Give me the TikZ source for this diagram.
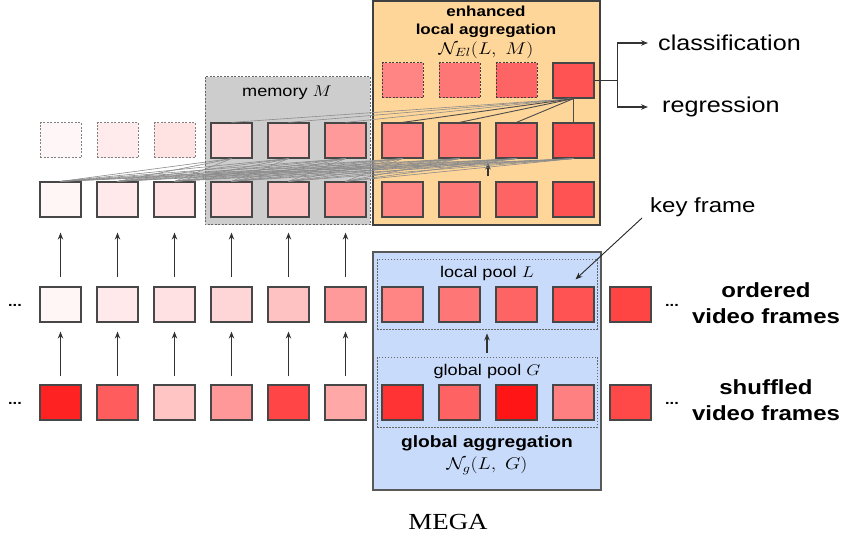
\RequirePackage{fix-cm}
\documentclass[tikz,border=0pt]{standalone}
\usepackage{graphicx}
\usepackage{fontspec}
\setmainfont{Liberation Sans}[FakeStretch=1.17]
\newfontfamily\capfont{Liberation Serif}[FakeStretch=1.17]
\usetikzlibrary{calc,arrows.meta}

% frame colours: ordered stream (oc), shuffled stream (sc), faded past frames (gc)
\definecolor{oc0}{HTML}{FFF6F5}
\definecolor{oc1}{HTML}{FFE9EA}
\definecolor{oc2}{HTML}{FFE1E3}
\definecolor{oc3}{HTML}{FFD6D7}
\definecolor{oc4}{HTML}{FFC2C2}
\definecolor{oc5}{HTML}{FF9A9A}
\definecolor{oc6}{HTML}{FF8585}
\definecolor{oc7}{HTML}{FF7676}
\definecolor{oc8}{HTML}{FF6464}
\definecolor{oc9}{HTML}{FF5252}
\definecolor{oc10}{HTML}{FF4444}
\definecolor{sc0}{HTML}{FF2222}
\definecolor{sc1}{HTML}{FF5D5D}
\definecolor{sc2}{HTML}{FFC4C4}
\definecolor{sc3}{HTML}{FF9999}
\definecolor{sc4}{HTML}{FF4545}
\definecolor{sc5}{HTML}{FFA8A8}
\definecolor{sc6}{HTML}{FF3333}
\definecolor{sc7}{HTML}{FF6262}
\definecolor{sc8}{HTML}{FF1515}
\definecolor{sc9}{HTML}{FF8080}
\definecolor{sc10}{HTML}{FF4848}
\definecolor{gc0}{HTML}{FFF7F7}
\definecolor{gc1}{HTML}{FFEBEB}
\definecolor{gc2}{HTML}{FFE3E3}
\definecolor{orangebg}{HTML}{FED699}
\definecolor{bluebg}{HTML}{C9DBFA}
\definecolor{graybg}{HTML}{CDCDCD}

\newcommand\wm[1]{\scalebox{1.17}[1]{$#1$}}

\begin{document}
\begin{tikzpicture}[x=1pt,y=-1pt,
  frame/.style={draw=black!72, line width=1.2pt, minimum width=41pt,
    minimum height=35pt, inner sep=0pt},
  ghost/.style={frame, draw=black!50, line width=1pt, dash pattern=on 2pt off 1.5pt},
  ghostkey/.style={frame, draw=black!75, line width=1pt, dash pattern=on 2pt off 1.5pt},
  pool/.style={draw=black!60, line width=0.9pt, dash pattern=on 1.5pt off 1.5pt,
    minimum width=220pt, minimum height=70pt, inner sep=0pt},
  panel/.style={line width=1.3pt, draw=black!75},
  up/.style={-{Stealth[length=7pt,width=5.5pt]}, draw=black!80, line width=1.1pt},
  fan/.style={draw=black!45, line width=0.6pt},
  keyline/.style={draw=black!70, line width=0.9pt},
  label/.style={inner sep=0pt, font=\fontsize{21.5}{24}\selectfont},
  bigbold/.style={inner sep=0pt, align=center, font=\bfseries\fontsize{20.5}{26}\selectfont},
  dots/.style={inner sep=0pt, font=\bfseries\fontsize{14}{15}\selectfont}
]
\useasboundingbox (0,0) rectangle (849,540);

% panels behind the frames
\draw[panel, draw=black!60, line width=1pt, fill=graybg, dash pattern=on 2pt off 1.5pt]
  (205,77) rectangle (370,225);
\draw[panel, fill=orangebg] (373,1) rectangle (600,225);
\draw[panel, draw=black!65, fill=bluebg] (373,252) rectangle (601,490);
\node[pool] (lpool) at (487,294) {};
\node[pool] (gpool) at (487,392) {};

% panel titles
\node[inner sep=0pt, align=center, font=\bfseries\fontsize{14.5}{18}\selectfont]
  (etitle) at (486,22) {enhanced\\local aggregation};
\node[inner sep=0pt, font=\fontsize{17}{20}\selectfont] (emath) at (486,50)
  {\wm{\mathcal{N}_{El}(L,\;M)}};
\node[inner sep=0pt, font=\fontsize{15.5}{18}\selectfont] (mtitle) at (287,93)
  {memory \wm{M}};
\node[inner sep=0pt, font=\fontsize{15.5}{18}\selectfont] (ltitle) at (487,273)
  {local pool \wm{L}};
\node[inner sep=0pt, font=\fontsize{15.5}{18}\selectfont] (gtitle) at (487,371)
  {global pool \wm{G}};
\node[inner sep=0pt, font=\bfseries\fontsize{16.4}{20}\selectfont] (gagg) at (487,443)
  {global aggregation};
\node[inner sep=0pt, font=\fontsize{17}{20}\selectfont] (gmath) at (487,466)
  {\wm{\mathcal{N}_{g}(L,\;G)}};

% frame rows
\foreach \c in {0,...,10} {
  \node[frame, fill=sc\c] (s\c) at ({60.5+57*\c},402.5) {};
  \node[frame, fill=oc\c] (o\c) at ({60.5+57*\c},304.5) {};
}
\foreach \c in {0,...,9}
  \node[frame, fill=oc\c] (f\c) at ({60.5+57*\c},199.5) {};
\foreach \c in {0,1,2}
  \node[ghost, fill=gc\c] (m\c) at ({60.5+57*\c},140.5) {};
\foreach \c in {3,...,9}
  \node[frame, fill=oc\c] (m\c) at ({60.5+57*\c},140.5) {};
\foreach \c in {6,7,8}
  \node[ghostkey, fill=oc\c] (e\c) at ({60.5+57*\c},80.5) {};
\node[frame, fill=oc9] (e9) at ({60.5+57*9},80.5) {};

% vertical feature arrows
\foreach \c in {0,...,5} {
  \draw[up, shorten <=8pt, shorten >=9pt] (s\c.north) -- (o\c.south);
  \draw[up, shorten <=9pt, shorten >=15pt] (o\c.north) -- (f\c.south);
}
\draw[up, shorten <=4pt, shorten >=4pt] (gpool.north) -- (lpool.south);
\draw[up, shorten <=5pt, shorten >=4pt]
  ($(f7.north)!0.5!(f8.north)$) -- ($(m7.south)!0.5!(m8.south)$);

% aggregation links between rows
\foreach \c in {3,...,9} {
  \pgfmathtruncatemacro\last{min(\c-1,5)}
  \foreach \t in {0,...,\last}
    \draw[fan] (m\c.south) -- (f\t.north);
}
\foreach \c in {3,4,5}
  \draw[fan] (e9.south) -- (m\c.north);
\foreach \c in {6,7,8,9}
  \draw[keyline] (e9.south) -- (m\c.north);

% heads
\node[label, anchor=west] (cls) at (658,43) {classification};
\node[label, anchor=west] (reg) at (662,107) {regression};
\draw[keyline, draw=black!80, line width=1.1pt] (e9.east) -- ++(23,0) coordinate (br);
\draw[up, shorten >=10pt] (br) |- (cls.west);
\draw[up, shorten >=14pt] (br) |- (reg.west);

% key frame pointer
\node[label, anchor=west, font=\fontsize{20.5}{24}\selectfont] (kf) at (650,207) {key frame};
\draw[-{Stealth[length=7pt,width=5.5pt]}, draw=black!85, line width=0.9pt]
  ($(kf.west)+(-8,11)$) -- ($(o9.north)+(2,-7)$);

% stream labels
\node[bigbold] (otxt) at (766,303) {ordered\\video frames};
\node[bigbold] (stxt) at (766,400) {shuffled\\video frames};
\node[dots] (d1) at (15,305) {...};
\node[dots] (d2) at (15,403) {...};
\node[dots] (d3) at (672,305) {...};
\node[dots] (d4) at (672,403) {...};

% caption
\node[inner sep=0pt, font=\capfont\fontsize{23}{26}\selectfont] (cap) at (448,522) {MEGA};
\end{tikzpicture}
\end{document}
